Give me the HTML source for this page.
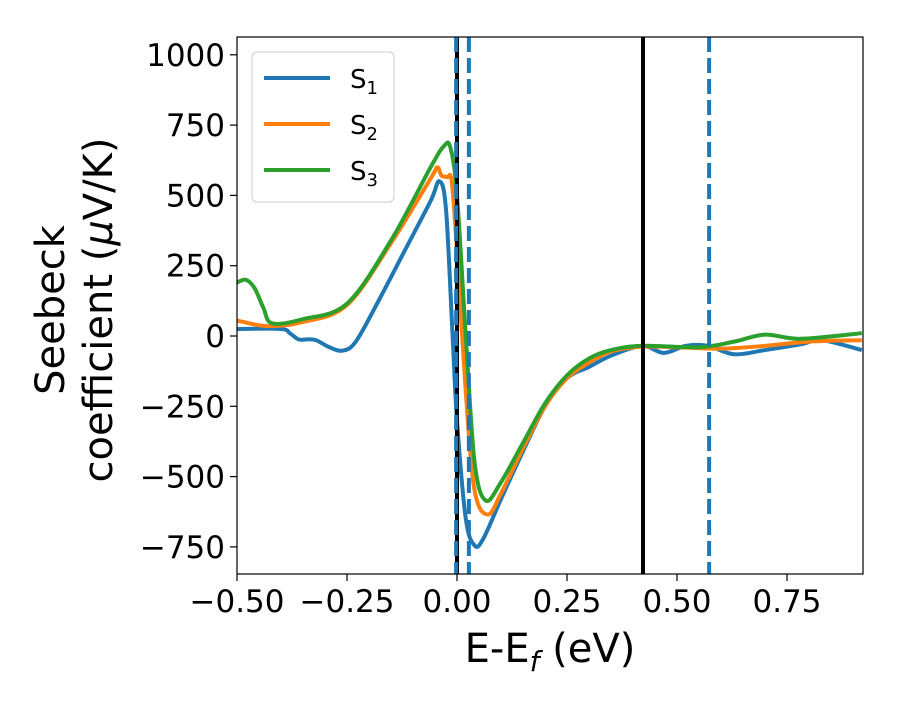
<!DOCTYPE html>
<html><head><meta charset="utf-8"><style>
body{margin:0;background:#fff;font-family:"Liberation Sans","DejaVu Sans",sans-serif}
svg text{font-family:"DejaVu Sans","Liberation Sans",sans-serif}
</style></head><body>
<svg id="chart" width="900" height="700" xmlns="http://www.w3.org/2000/svg">
<defs><clipPath id="clip"><rect x="237" y="37" width="626" height="537"/></clipPath></defs>
<g id="plot" clip-path="url(#clip)"></g>
<rect x="237" y="37" width="626" height="537" fill="none" stroke="#000" stroke-width="1.2"/>
<g id="ticks"></g>
<text x="550" y="662" font-size="40" text-anchor="middle">E-E<tspan font-style="italic" font-size="28" dy="9">f</tspan><tspan dy="-9"> (eV)</tspan></text>
<g transform="translate(64,310) rotate(-90)">
<text x="0" y="0" font-size="40" text-anchor="middle">Seebeck</text>
<text x="0" y="48" font-size="40" text-anchor="middle">coefficient  (<tspan font-style="italic">μ</tspan>V/K)</text>
</g>
<g>
<rect x="252" y="52" width="142" height="150" rx="5" fill="#fff" fill-opacity="0.8" stroke="#ccc"/>
<line x1="264" y1="78" x2="330" y2="78" stroke="#1f77b4" stroke-width="4"/>
<text x="350" y="88" font-size="26">S<tspan font-size="18" dy="6">1</tspan></text>
<line x1="264" y1="124" x2="330" y2="124" stroke="#ff7f0e" stroke-width="4"/>
<text x="350" y="134" font-size="26">S<tspan font-size="18" dy="6">2</tspan></text>
<line x1="264" y1="170" x2="330" y2="170" stroke="#2ca02c" stroke-width="4"/>
<text x="350" y="180" font-size="26">S<tspan font-size="18" dy="6">3</tspan></text>
</g>
</svg>
<script>
const xTicks=[-0.5,-0.25,0,0.25,0.5,0.75];
const xTickLabels=["−0.50","−0.25","0.00","0.25","0.50","0.75"];
const yTicks=[-750,-500,-250,0,250,500,750,1000];
const yTickLabels=["−750","−500","−250","0","250","500","750","1000"];
const s1E=[-0.5,-0.4,-0.38,-0.36,-0.34,-0.32,-0.29,-0.26,-0.23,-0.18,-0.12,-0.06,-0.04,-0.025,-0.01,0.0,0.02,0.04,0.06,0.1,0.15,0.2,0.25,0.3,0.35,0.42,0.47,0.52,0.57,0.63,0.7,0.78,0.83,0.92];
const s1V=[25,25,10,-12,-12,-15,-40,-52,-20,120,300,480,550,450,0,-300,-650,-745,-720,-580,-410,-250,-150,-110,-70,-35,-60,-35,-35,-65,-50,-30,-15,-50];
const s2E=[-0.5,-0.43,-0.35,-0.25,-0.15,-0.06,-0.045,-0.035,-0.022,-0.012,0.0,0.02,0.04,0.07,0.1,0.15,0.2,0.25,0.3,0.35,0.42,0.5,0.6,0.7,0.8,0.92];
const s2V=[55,35,50,110,330,560,600,570,565,550,300,-200,-550,-635,-560,-400,-250,-150,-95,-55,-38,-40,-45,-35,-20,-15];
const s3E=[-0.5,-0.48,-0.46,-0.44,-0.42,-0.35,-0.25,-0.15,-0.06,-0.03,-0.015,0.0,0.02,0.04,0.065,0.1,0.15,0.2,0.25,0.3,0.35,0.42,0.55,0.63,0.7,0.78,0.92];
const s3V=[190,200,170,100,45,60,115,340,600,675,670,500,0,-450,-585,-520,-380,-240,-140,-80,-50,-35,-40,-20,5,-10,10];
const vlinesSolid=[0.0,0.4227];
const vlinesDashed=[-0.002,0.027,0.573];
const X=e=>237+(e+0.5)*440, Y=v=>336-v*0.2812;
const NS="http://www.w3.org/2000/svg";
const plot=document.getElementById('plot'), ticks=document.getElementById('ticks');
function mk(t,a,p){const el=document.createElementNS(NS,t);for(const k in a)el.setAttribute(k,a[k]);p.appendChild(el);return el;}
function path(E,V){const p=E.map((e,i)=>[X(e),Y(V[i])]);let d=`M${p[0][0]},${p[0][1]}`;
for(let i=0;i<p.length-1;i++){const p0=p[i-1]||p[i],p1=p[i],p2=p[i+1],p3=p[i+2]||p2;
d+=` C${p1[0]+(p2[0]-p0[0])/6},${p1[1]+(p2[1]-p0[1])/6} ${p2[0]-(p3[0]-p1[0])/6},${p2[1]-(p3[1]-p1[1])/6} ${p2[0]},${p2[1]}`;}return d;}
[[s1E,s1V,'#1f77b4','series-s1'],[s2E,s2V,'#ff7f0e','series-s2'],[s3E,s3V,'#2ca02c','series-s3']].forEach(([e,v,c,n])=>{
const el=mk('path',{d:path(e,v),fill:'none',stroke:c,'stroke-width':4},plot);

});
vlinesSolid.forEach(e=>{const el=mk('line',{x1:X(e),x2:X(e),y1:37,y2:574,stroke:'#000','stroke-width':4},plot);

});
vlinesDashed.forEach(e=>{const el=mk('line',{x1:X(e),x2:X(e),y1:37,y2:574,stroke:'#1f77b4','stroke-width':4,'stroke-dasharray':'15,6'},plot);

});
xTicks.forEach((t,i)=>{mk('line',{x1:X(t),x2:X(t),y1:574,y2:581,stroke:'#000','stroke-width':1.2},ticks);
const tx=mk('text',{x:X(t),y:612,'font-size':31,'text-anchor':'middle'},ticks);tx.textContent=xTickLabels[i];

});
yTicks.forEach((t,i)=>{mk('line',{x1:230,x2:237,y1:Y(t),y2:Y(t),stroke:'#000','stroke-width':1.2},ticks);
const tx=mk('text',{x:225,y:Y(t)+11,'font-size':31,'text-anchor':'end'},ticks);tx.textContent=yTickLabels[i];

});
</script>
</body></html>
